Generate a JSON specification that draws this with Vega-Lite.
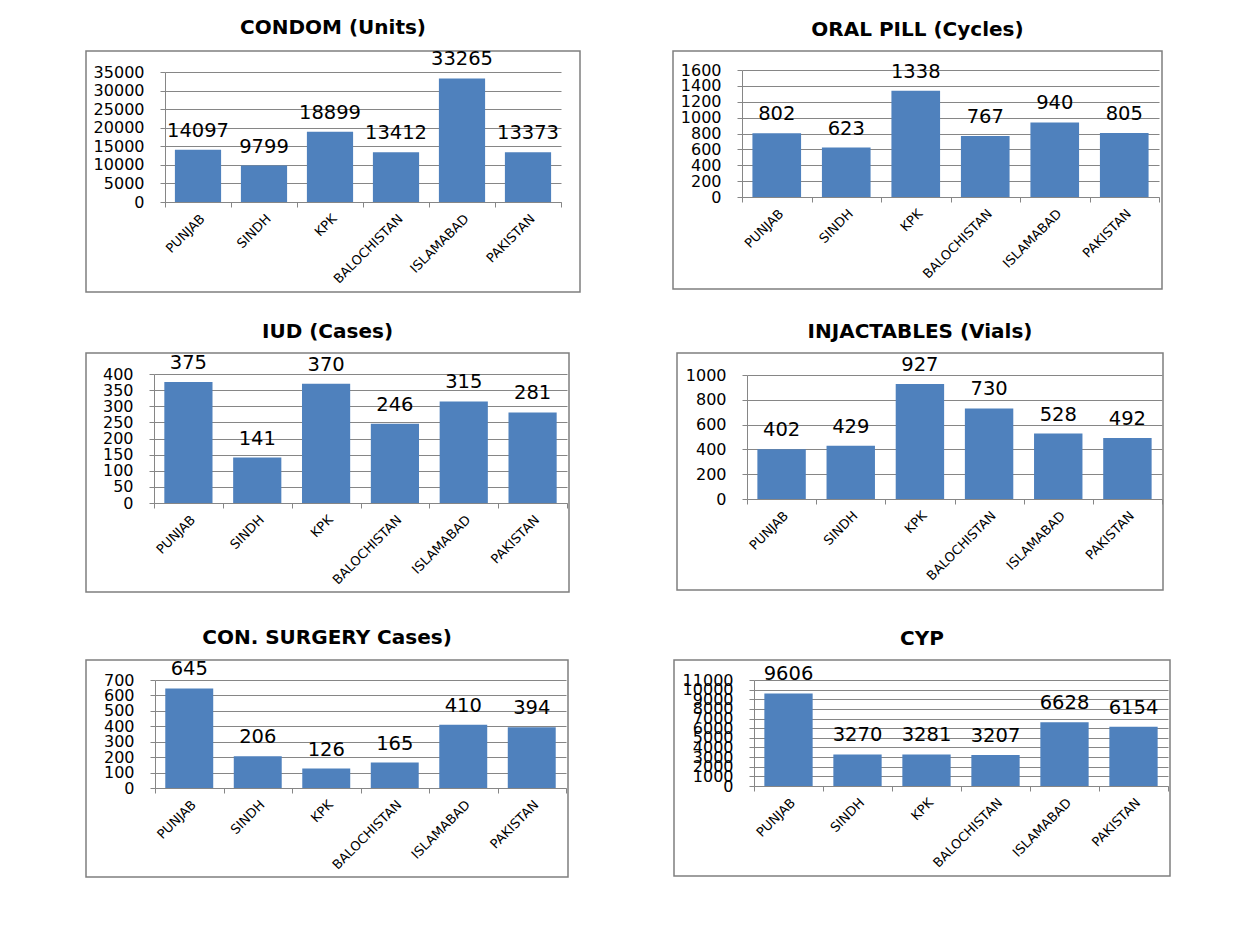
{
  "$schema": "https://vega.github.io/schema/vega-lite/v6.json",
  "background": "white",
  "padding": {"left": 85, "top": 17, "right": 5, "bottom": 5},
  "config": {
    "view": {"stroke": "#7f7f7f", "strokeWidth": 1.5},
    "axis": {"title": null, "domainColor": "#868686", "tickColor": "#868686", "gridColor": "#868686", "gridWidth": 1, "labelColor": "#000000", "labelFont": "DejaVu Sans"},
    "axisX": {"grid": false, "tickBand": "extent", "labelAngle": -45, "labelFontSize": 13, "tickSize": 5, "labelPadding": 5},
    "axisY": {"grid": true, "labelFontSize": 16, "tickSize": 5, "labelPadding": 16, "labelOverlap": false, "format": "d"},
    "title": {"font": "DejaVu Sans", "fontSize": 20, "fontWeight": "bold", "color": "#000000", "offset": 11},
    "bar": {"color": "#4f81bd"},
    "text": {"font": "DejaVu Sans", "fontSize": 19.5, "color": "#000000", "baseline": "alphabetic", "dy": -13}
  },
  "vconcat": [
    {
      "hconcat": [
        {
          "width": 494, "height": 241,
          "title": "CONDOM (Units)",
          "data": {"values": [
            {"region": "PUNJAB", "value": 14097},
            {"region": "SINDH", "value": 9799},
            {"region": "KPK", "value": 18899},
            {"region": "BALOCHISTAN", "value": 13412},
            {"region": "ISLAMABAD", "value": 33265},
            {"region": "PAKISTAN", "value": 13373}
          ]},
          "encoding": {
            "x": {"field": "region", "type": "nominal", "sort": null, "scale": {"range": [79, 475], "paddingInner": 0, "paddingOuter": 0}, "axis": {"offset": -90}},
            "y": {"field": "value", "type": "quantitative", "scale": {"domain": [0, 35000], "range": [151, 21], "nice": false}, "axis": {"offset": -79, "values": [0, 5000, 10000, 15000, 20000, 25000, 30000, 35000]}}
          },
          "layer": [
            {"mark": {"type": "bar", "width": {"band": 0.7}}},
            {"mark": {"type": "text"}, "encoding": {"text": {"field": "value", "type": "quantitative", "format": "d"}}}
          ]
        },
        {
          "width": 489, "height": 238,
          "title": "ORAL PILL (Cycles)",
          "data": {"values": [
            {"region": "PUNJAB", "value": 802},
            {"region": "SINDH", "value": 623},
            {"region": "KPK", "value": 1338},
            {"region": "BALOCHISTAN", "value": 767},
            {"region": "ISLAMABAD", "value": 940},
            {"region": "PAKISTAN", "value": 805}
          ]},
          "encoding": {
            "x": {"field": "region", "type": "nominal", "sort": null, "scale": {"range": [69, 486], "paddingInner": 0, "paddingOuter": 0}, "axis": {"offset": -92}},
            "y": {"field": "value", "type": "quantitative", "scale": {"domain": [0, 1600], "range": [146, 19], "nice": false}, "axis": {"offset": -69, "values": [0, 200, 400, 600, 800, 1000, 1200, 1400, 1600]}}
          },
          "layer": [
            {"mark": {"type": "bar", "width": {"band": 0.7}}},
            {"mark": {"type": "text"}, "encoding": {"text": {"field": "value", "type": "quantitative", "format": "d"}}}
          ]
        }
      ],
      "spacing": 91
    },
    {
      "vconcat": [
        {
          "hconcat": [
            {
              "width": 483, "height": 239,
              "title": "IUD (Cases)",
              "data": {"values": [
                {"region": "PUNJAB", "value": 375},
                {"region": "SINDH", "value": 141},
                {"region": "KPK", "value": 370},
                {"region": "BALOCHISTAN", "value": 246},
                {"region": "ISLAMABAD", "value": 315},
                {"region": "PAKISTAN", "value": 281}
              ]},
              "encoding": {
                "x": {"field": "region", "type": "nominal", "sort": null, "scale": {"range": [68, 481], "paddingInner": 0, "paddingOuter": 0}, "axis": {"offset": -89}},
                "y": {"field": "value", "type": "quantitative", "scale": {"domain": [0, 400], "range": [150, 21], "nice": false}, "axis": {"offset": -68, "values": [0, 50, 100, 150, 200, 250, 300, 350, 400]}}
              },
              "layer": [
                {"mark": {"type": "bar", "width": {"band": 0.7}}},
                {"mark": {"type": "text"}, "encoding": {"text": {"field": "value", "type": "quantitative", "format": "d"}}}
              ]
            },
            {
              "width": 486, "height": 237,
              "title": "INJACTABLES (Vials)",
              "data": {"values": [
                {"region": "PUNJAB", "value": 402},
                {"region": "SINDH", "value": 429},
                {"region": "KPK", "value": 927},
                {"region": "BALOCHISTAN", "value": 730},
                {"region": "ISLAMABAD", "value": 528},
                {"region": "PAKISTAN", "value": 492}
              ]},
              "encoding": {
                "x": {"field": "region", "type": "nominal", "sort": null, "scale": {"range": [70, 485], "paddingInner": 0, "paddingOuter": 0}, "axis": {"offset": -91}},
                "y": {"field": "value", "type": "quantitative", "scale": {"domain": [0, 1000], "range": [146, 22], "nice": false}, "axis": {"offset": -70, "values": [0, 200, 400, 600, 800, 1000]}}
              },
              "layer": [
                {"mark": {"type": "bar", "width": {"band": 0.7}}},
                {"mark": {"type": "text"}, "encoding": {"text": {"field": "value", "type": "quantitative", "format": "d"}}}
              ]
            }
          ],
          "spacing": 106
        },
        {
          "hconcat": [
            {
              "width": 482, "height": 217,
              "title": "CON. SURGERY Cases)",
              "data": {"values": [
                {"region": "PUNJAB", "value": 645},
                {"region": "SINDH", "value": 206},
                {"region": "KPK", "value": 126},
                {"region": "BALOCHISTAN", "value": 165},
                {"region": "ISLAMABAD", "value": 410},
                {"region": "PAKISTAN", "value": 394}
              ]},
              "encoding": {
                "x": {"field": "region", "type": "nominal", "sort": null, "scale": {"range": [69, 480], "paddingInner": 0, "paddingOuter": 0}, "axis": {"offset": -89}},
                "y": {"field": "value", "type": "quantitative", "scale": {"domain": [0, 700], "range": [128, 20], "nice": false}, "axis": {"offset": -69, "values": [0, 100, 200, 300, 400, 500, 600, 700]}}
              },
              "layer": [
                {"mark": {"type": "bar", "width": {"band": 0.7}}},
                {"mark": {"type": "text"}, "encoding": {"text": {"field": "value", "type": "quantitative", "format": "d"}}}
              ]
            },
            {
              "width": 496, "height": 216,
              "title": "CYP",
              "data": {"values": [
                {"region": "PUNJAB", "value": 9606},
                {"region": "SINDH", "value": 3270},
                {"region": "KPK", "value": 3281},
                {"region": "BALOCHISTAN", "value": 3207},
                {"region": "ISLAMABAD", "value": 6628},
                {"region": "PAKISTAN", "value": 6154}
              ]},
              "encoding": {
                "x": {"field": "region", "type": "nominal", "sort": null, "scale": {"range": [80, 494], "paddingInner": 0, "paddingOuter": 0}, "axis": {"offset": -90}},
                "y": {"field": "value", "type": "quantitative", "scale": {"domain": [0, 11000], "range": [126, 20], "nice": false}, "axis": {"offset": -80, "values": [0, 1000, 2000, 3000, 4000, 5000, 6000, 7000, 8000, 9000, 10000, 11000]}}
              },
              "layer": [
                {"mark": {"type": "bar", "width": {"band": 0.7}}},
                {"mark": {"type": "text"}, "encoding": {"text": {"field": "value", "type": "quantitative", "format": "d"}}}
              ]
            }
          ],
          "spacing": 104
        }
      ],
      "spacing": 34
    }
  ],
  "spacing": 28
}
